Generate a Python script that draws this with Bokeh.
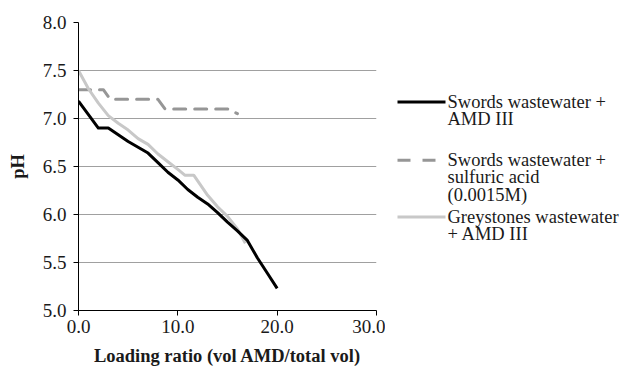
from bokeh.plotting import figure
from bokeh.layouts import row
from bokeh.models import Range1d, FixedTicker
from bokeh.core.properties import value
from bokeh.embed import file_html
from bokeh.resources import INLINE

# ---- data ----
swords_amd_x = [0, 1, 2, 3, 4, 5, 6, 7, 8, 9, 10, 11, 12, 13, 14, 15, 16, 17, 18, 19, 20]
swords_amd_y = [7.18, 7.04, 6.90, 6.90, 6.83, 6.76, 6.70, 6.64, 6.54, 6.44, 6.36, 6.26,
                6.18, 6.11, 6.02, 5.92, 5.83, 5.73, 5.55, 5.39, 5.23]

swords_acid_x = [0, 2.5, 3.2, 8.0, 8.7, 15.0, 16.0]
swords_acid_y = [7.30, 7.30, 7.20, 7.20, 7.10, 7.10, 7.05]

greystones_x = [0, 1, 2, 3, 4, 5, 6, 7, 8, 9, 10, 10.7, 11.6, 13, 14, 15, 16, 16.8]
greystones_y = [7.50, 7.31, 7.16, 7.03, 6.95, 6.88, 6.79, 6.73, 6.63, 6.55, 6.47, 6.41,
                6.41, 6.20, 6.08, 5.98, 5.85, 5.70]

series_labels = [
    ["Swords wastewater +", "AMD III"],
    ["Swords wastewater +", "sulfuric acid", "(0.0015M)"],
    ["Greystones wastewater", "+ AMD III"],
]

x_ticks = [0, 10, 20, 30]
x_tick_labels = ["0.0", "10.0", "20.0", "30.0"]
y_ticks = [5.0, 5.5, 6.0, 6.5, 7.0, 7.5, 8.0]
y_tick_labels = ["5.0", "5.5", "6.0", "6.5", "7.0", "7.5", "8.0"]

x_title = "Loading ratio (vol AMD/total vol)"
y_title = "pH"

FONT = "Liberation Serif"
BLACK = "#000000"
DASH_GRAY = "#969696"
LIGHT_GRAY = "#c8c8c8"
TEXT = "#1a1a1a"

# ---- main plot ----
p = figure(width=385, height=370, output_backend="svg", toolbar_location=None,
           x_range=Range1d(0, 30), y_range=Range1d(5.0, 8.0),
           min_border_left=78, min_border_right=9, min_border_top=22, min_border_bottom=60)
p.outline_line_color = None
p.background_fill_color = "white"
p.border_fill_color = "white"

p.line(swords_acid_x, swords_acid_y, line_color=DASH_GRAY, line_width=3,
       line_dash="12 9", line_cap="round", line_join="round")
p.line(greystones_x, greystones_y, line_color=LIGHT_GRAY, line_width=3, line_join="round")
p.line(swords_amd_x, swords_amd_y, line_color=BLACK, line_width=3, line_join="round")

p.xgrid.grid_line_color = None
p.ygrid.grid_line_color = "#a0a0a0"
p.ygrid.grid_line_width = 1
p.ygrid.ticker = FixedTicker(ticks=y_ticks)

p.xaxis.ticker = FixedTicker(ticks=x_ticks)
p.yaxis.ticker = FixedTicker(ticks=y_ticks)
p.xaxis.major_label_overrides = {t: l for t, l in zip(x_ticks, x_tick_labels)}
p.yaxis.major_label_overrides = {t: l for t, l in zip(y_ticks, y_tick_labels)}

for ax in (p.xaxis, p.yaxis):
    ax.axis_line_color = BLACK
    ax.axis_line_width = 1
    ax.major_tick_line_color = BLACK
    ax.major_tick_out = 5
    ax.major_tick_in = 0
    ax.minor_tick_line_color = None
    ax.major_label_text_font = FONT
    ax.major_label_text_font_size = "19px"
    ax.major_label_text_color = TEXT
    ax.axis_label_text_font = FONT
    ax.axis_label_text_font_style = "bold"
    ax.axis_label_text_font_size = "18.5px"
    ax.axis_label_text_color = TEXT

p.xaxis.axis_label = x_title
p.yaxis.axis_label = y_title
p.xaxis.major_label_standoff = 4
p.yaxis.major_label_standoff = 7
p.xaxis.axis_label_standoff = 10
p.yaxis.axis_label_standoff = 12

# ---- legend panel ----
lg = figure(width=240, height=370, output_backend="svg", toolbar_location=None,
            x_range=Range1d(0, 240), y_range=Range1d(370, 0),
            min_border=0)
lg.outline_line_color = None
lg.axis.visible = False
lg.grid.visible = False

sample_y = [102, 177, 250]
sample_styles = [
    dict(line_color=BLACK, line_width=3),
    dict(line_color=DASH_GRAY, line_width=3, line_dash="13 12"),
    dict(line_color=LIGHT_GRAY, line_width=3),
]
for yy, st in zip(sample_y, sample_styles):
    lg.line([12, 60], [yy, yy], **st)

tx, ty, tt = [], [], []
for yy, lines in zip(sample_y, series_labels):
    for i, s in enumerate(lines):
        tx.append(62)
        ty.append(yy + i * 22)
        tt.append(s)
lg.text(x=tx, y=ty, text=tt, text_font=value(FONT), text_font_size="18.5px",
        text_baseline="middle", text_align="left", text_color=TEXT)

layout = row(p, lg)
open("out.html", "w").write(file_html(layout, INLINE))
